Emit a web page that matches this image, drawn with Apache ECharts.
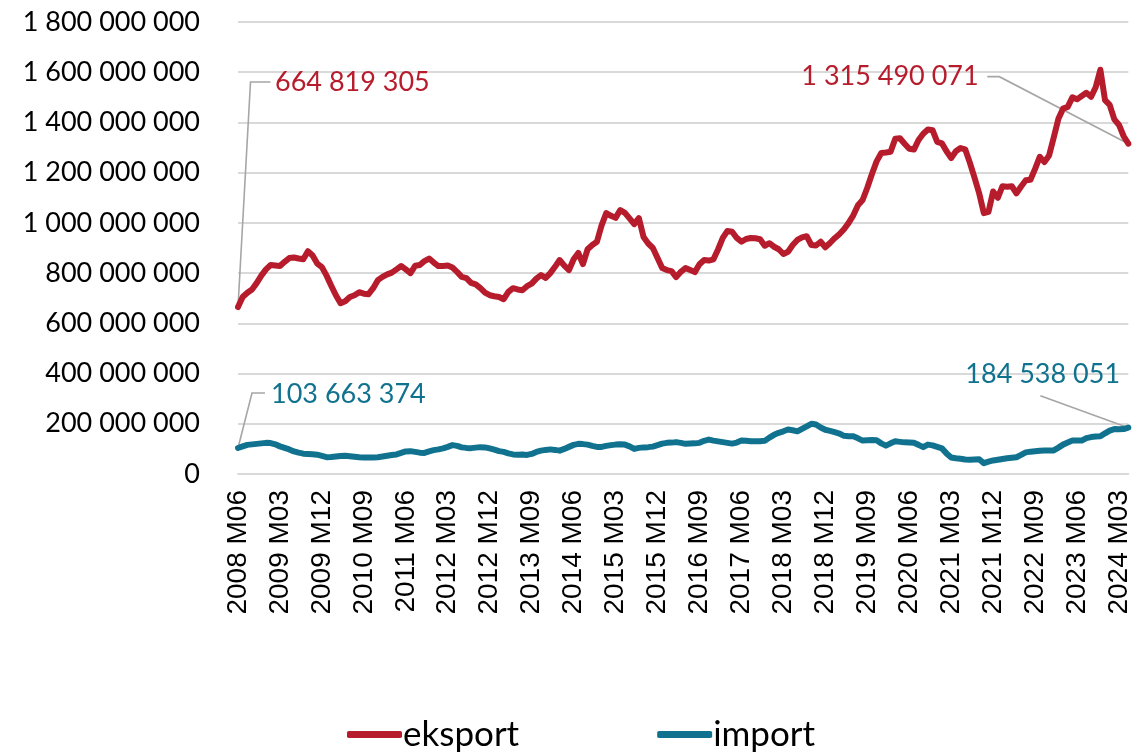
<!DOCTYPE html>
<html>
<head>
<meta charset="utf-8">
<script src="https://cdn.jsdelivr.net/npm/echarts@6/dist/echarts.min.js"></script>
<style>
  html, body { margin: 0; padding: 0; background: #fff; }
  #chart { width: 1133px; height: 752px; }
</style>
</head>
<body>
<div id="chart"></div>
<script>
// Monthly values in millions, 2008 M06 – 2024 M05
const eksportMln = [
  664.819305, 705, 722, 735, 760, 790, 815, 832, 830, 828,
  845, 860, 862, 858, 855, 887, 870, 838, 824, 790,
  750, 712, 680, 688, 705, 712, 724, 718, 716, 740,
  772, 785, 795, 802, 815, 828, 815, 800, 829, 832,
  848, 858, 842, 828, 828, 830, 822, 805, 785, 780,
  761, 755, 740, 722, 712, 708, 705, 696, 725, 740,
  735, 732, 748, 758, 778, 792, 781, 800, 825, 852,
  830, 812, 855, 880, 836, 895, 912, 925, 990, 1039,
  1028, 1020, 1051, 1040, 1018, 995, 1019, 944, 918, 900,
  860, 820, 812, 808, 784, 805, 820, 812, 804, 835,
  852, 850, 855, 895, 940, 968, 965, 940, 925, 936,
  940, 939, 935, 909, 919, 905, 895, 876, 885, 912,
  932, 942, 947, 912, 910, 925, 903, 920, 939, 955,
  975, 1000, 1030, 1070, 1091, 1140, 1195, 1245, 1278, 1280,
  1283, 1335, 1337, 1315, 1295, 1292, 1330, 1355, 1372, 1369,
  1323, 1317, 1285, 1258, 1285, 1298, 1293, 1240, 1180, 1118,
  1039, 1044, 1125, 1100, 1146, 1144, 1146, 1118, 1145, 1170,
  1172, 1215, 1263, 1242, 1268, 1340, 1415, 1455, 1462, 1500,
  1492, 1505, 1518, 1502, 1540, 1610, 1489, 1470, 1412, 1390,
  1345, 1315.490071
];
const importMln = [
  103.663374, 110, 116, 118, 120, 122, 124, 123, 118, 110,
  104, 98, 90, 85, 81, 80, 79, 77, 72, 67,
  68, 70, 72, 73, 71, 69, 67, 66, 66, 66,
  67, 70, 73, 76, 78, 84, 90, 91, 88, 85,
  84, 90, 95, 98, 102, 108, 115, 112, 106, 104,
  103, 105, 107, 106, 102, 97, 91, 88, 82, 78,
  77, 78, 76, 80, 88, 93, 96, 98, 96, 93,
  100, 108, 116, 120, 119, 117, 112, 108, 108, 112,
  115, 117, 118, 117, 110, 100, 104, 106, 107, 109,
  115, 121, 124, 125, 127, 124, 120, 121, 122, 124,
  132, 137, 133, 130, 127, 124, 121, 125, 133, 132,
  130, 130, 130, 132, 145, 156, 164, 170, 177, 174,
  170, 180, 190, 200, 197, 185, 176, 172, 167, 161,
  152, 150, 150, 142, 133, 134, 135, 134, 122, 113,
  122, 130, 128, 126, 125, 124, 116, 107, 117, 114,
  108, 102, 82, 66, 63, 61, 58, 57, 58, 59,
  43, 49, 54, 57, 60, 63, 65, 67, 76, 86,
  89, 91, 93, 94, 94, 94, 105, 117, 125, 133,
  133, 133, 143, 147, 149, 150, 162, 173, 179, 178,
  179, 184.538051
];

// Category labels "YYYY Mmm"
const months = [];
for (let i = 0, y = 2008, m = 6; i < eksportMln.length; i++) {
  months.push(y + ' M' + String(m).padStart(2, '0'));
  m++; if (m > 12) { m = 1; y++; }
}

const yTicks = { min: 0, max: 1800000000, step: 200000000 };

const RED = '#B71C2C';
const TEAL = '#10728F';
const LEADER = '#A6A6A6';
const LABEL_FONT = 'Lato, "Noto Sans", sans-serif';

function spaced(v) {
  return Math.round(v).toString().replace(/\B(?=(\d{3})+(?!\d))/g, ' ');
}

const last = eksportMln.length - 1;
const isEnd = i => i === 0 || i === last;

function buildSeries(name, mln, color) {
  return {
    name: name,
    type: 'line',
    data: mln.map((v, i) => {
      const value = Math.round(v * 1e6);
      return isEnd(i) ? { value: value, label: { show: true } } : value;
    }),
    showSymbol: true,
    showAllSymbol: true,
    symbol: 'circle',
    symbolSize: (val, p) => isEnd(p.dataIndex) ? 4 : 0,
    itemStyle: { color: color },
    lineStyle: { color: color, width: 6, cap: 'round', join: 'round' },
    label: {
      show: false,
      formatter: p => spaced(p.value),
      color: color,
      fontFamily: LABEL_FONT,
      fontSize: 27,
      position: 'right',
      distance: 5
    },
    emphasis: { disabled: true },
    z: name === 'eksport' ? 3 : 2
  };
}

const chart = echarts.init(document.getElementById('chart'), null, { renderer: 'canvas' });

// Label offsets from their data point, and leader-line bends relative to the point
const labelShift = {
  '0-first': { dx: 30, dy: -225 },
  '0-last': { dx: -334, dy: -67 },
  '1-first': { dx: 26, dy: -54 },
  '1-last': { dx: -170, dy: -53 }
};
const leaderBends = {
  '0-first': [[12.5, -225], [32.5, -225]],
  '0-last': [[-129, -67], [-141, -67]],
  '1-first': [[14, -55], [27, -55]],
  '1-last': [[-88, -32]]
};

const option = {
  animation: false,
  backgroundColor: '#fff',
  grid: { left: 238, right: 4, top: 22, bottom: 278 },
  legend: {
    top: 712,
    left: 342,
    icon: 'roundRect',
    itemWidth: 55,
    itemHeight: 7,
    itemGap: 138,
    textStyle: { fontFamily: LABEL_FONT, fontSize: 35, color: '#000', padding: [0, 0, 0, -4] },
    data: ['eksport', 'import']
  },
  xAxis: {
    type: 'category',
    data: months,
    boundaryGap: false,
    axisLine: { show: true, lineStyle: { color: '#D9D9D9', width: 2 } },
    axisTick: { show: false },
    axisLabel: {
      interval: 8,
      rotate: 90,
      margin: 16,
      color: '#000',
      fontFamily: '"Liberation Sans", Arial, sans-serif',
      fontSize: 28
    },
    splitLine: { show: false }
  },
  yAxis: {
    type: 'value',
    min: yTicks.min,
    max: yTicks.max,
    interval: yTicks.step,
    axisLine: { show: false },
    axisTick: { show: false },
    splitLine: { lineStyle: { color: '#D9D9D9', width: 2 } },
    axisLabel: {
      margin: 38,
      color: '#000',
      fontFamily: LABEL_FONT,
      fontSize: 27,
      formatter: v => spaced(v)
    }
  },
  labelLayout: function (p) {
    const key = p.seriesIndex + '-' + (p.dataIndex === 0 ? 'first' : 'last');
    return labelShift[key] || {};
  },
  series: [
    buildSeries('eksport', eksportMln, RED),
    buildSeries('import', importMln, TEAL)
  ]
};

chart.setOption(option);

// Leader lines from the end points to their value labels
const leaders = [];
[eksportMln, importMln].forEach((mln, s) => {
  [0, last].forEach(idx => {
    const key = s + '-' + (idx === 0 ? 'first' : 'last');
    const pt = chart.convertToPixel({ gridIndex: 0 }, [idx, Math.round(mln[idx] * 1e6)]);
    const pts = [pt].concat(leaderBends[key].map(b => [pt[0] + b[0], pt[1] + b[1]]));
    leaders.push({
      type: 'polyline',
      shape: { points: pts },
      style: { stroke: LEADER, lineWidth: 1.6, fill: null },
      silent: true,
      z: 1
    });
  });
});
chart.setOption({ graphic: leaders });
</script>
</body>
</html>
